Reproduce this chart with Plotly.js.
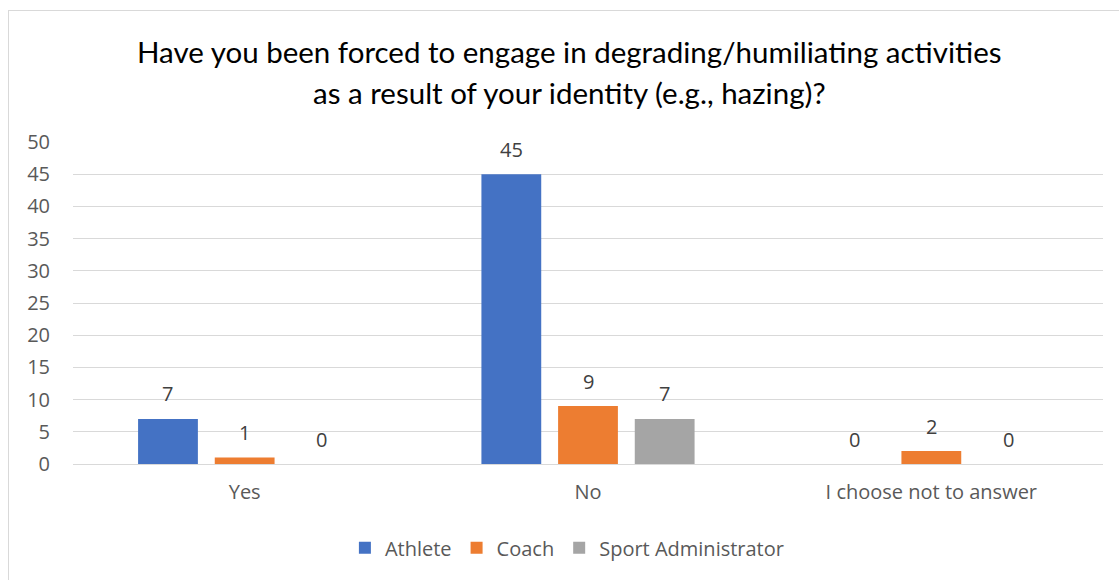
<!DOCTYPE html>
<html>
<head>
<meta charset="utf-8">
<script src="https://cdn.plot.ly/plotly-3.0.1.min.js"></script>
<style>
html,body{margin:0;padding:0;background:#fff;}
#wrap{position:relative;width:1119px;height:580px;overflow:hidden;}
#frame{position:absolute;left:8px;top:10px;width:1130px;height:600px;border:1.5px solid #d9d9d9;box-sizing:border-box;}
#chart{position:absolute;left:0;top:0;width:1119px;height:580px;}
</style>
</head>
<body>
<div id="wrap"><div id="frame"></div><div id="chart"></div></div>
<script>
const categories = ["Yes", "No", "I choose not to answer"];
const seriesNames = ["Athlete", "Coach", "Sport Administrator"];
const athlete = [7, 45, 0];
const coach = [1, 9, 2];
const sportAdmin = [0, 7, 0];
const titleLines = ["Have you been forced to engage in degrading/humiliating activities", "as a result of your identity (e.g., hazing)?"];
const yTicks = [0, 5, 10, 15, 20, 25, 30, 35, 40, 45, 50];

const colors = ["#4472C4", "#ED7D31", "#A5A5A5"];
const values = [athlete, coach, sportAdmin];
const bargap = 0.33;
const slot = (1 - bargap) / values.length;
const fontFam = "Open Sans, sans-serif";
const labelFont = {family: fontFam, size: 20, color: "#404040"};

const traces = values.map((v, i) => ({
  type: "bar",
  name: seriesNames[i],
  x: categories,
  y: v,
  marker: {color: colors[i]},
  hoverinfo: "none"
}));

// data labels placed through the axes from the same arrays
const labelAnns = [];
values.forEach((v, i) => {
  v.forEach((val, c) => {
    labelAnns.push({
      text: String(val), xref: "x", yref: "y",
      x: c + (i - (values.length - 1) / 2) * slot, y: val,
      xanchor: "center", yanchor: "middle", yshift: 25,
      showarrow: false, font: labelFont
    });
  });
});

const titleAnns = titleLines.map((t, i) => ({
  text: t, xref: "paper", yref: "paper",
  x: 0.4825, xanchor: "center",
  y: 1 + (142 - (51 + i * 41)) / 322, yanchor: "middle",
  showarrow: false,
  font: {family: "Lato, sans-serif", size: 29.5, color: "#000000"}
}));

const layout = {
  width: 1119, height: 580,
  margin: {l: 73, r: 16, t: 142, b: 116},
  paper_bgcolor: "rgba(0,0,0,0)",
  plot_bgcolor: "rgba(0,0,0,0)",
  barmode: "group",
  bargap: bargap,
  bargroupgap: 0.22,
  showlegend: true,
  legend: {
    orientation: "h", x: 0.48, xanchor: "center", y: -0.26, yanchor: "middle",
    font: {family: fontFam, size: 20, color: "#595959"},
    traceorder: "normal", itemwidth: 30
  },
  xaxis: {
    type: "category",
    range: [-0.5, 2.5],
    tickfont: {family: fontFam, size: 20, color: "#595959"},
    ticks: "outside", ticklen: 10, tickcolor: "rgba(0,0,0,0)",
    showline: false, showgrid: false, zeroline: false
  },
  yaxis: {
    range: [0, 50],
    tickvals: yTicks,
    ticktext: yTicks.map(String),
    tickfont: {family: fontFam, size: 20, color: "#595959"},
    ticks: "outside", ticklen: 18, tickcolor: "rgba(0,0,0,0)",
    showgrid: true, gridcolor: "#d9d9d9", gridwidth: 1,
    zeroline: true, zerolinecolor: "#d9d9d9", zerolinewidth: 1,
    showline: false
  },
  annotations: titleAnns.concat(labelAnns)
};

Plotly.newPlot("chart", traces, layout, {displayModeBar: false, staticPlot: true});
</script>
</body>
</html>
